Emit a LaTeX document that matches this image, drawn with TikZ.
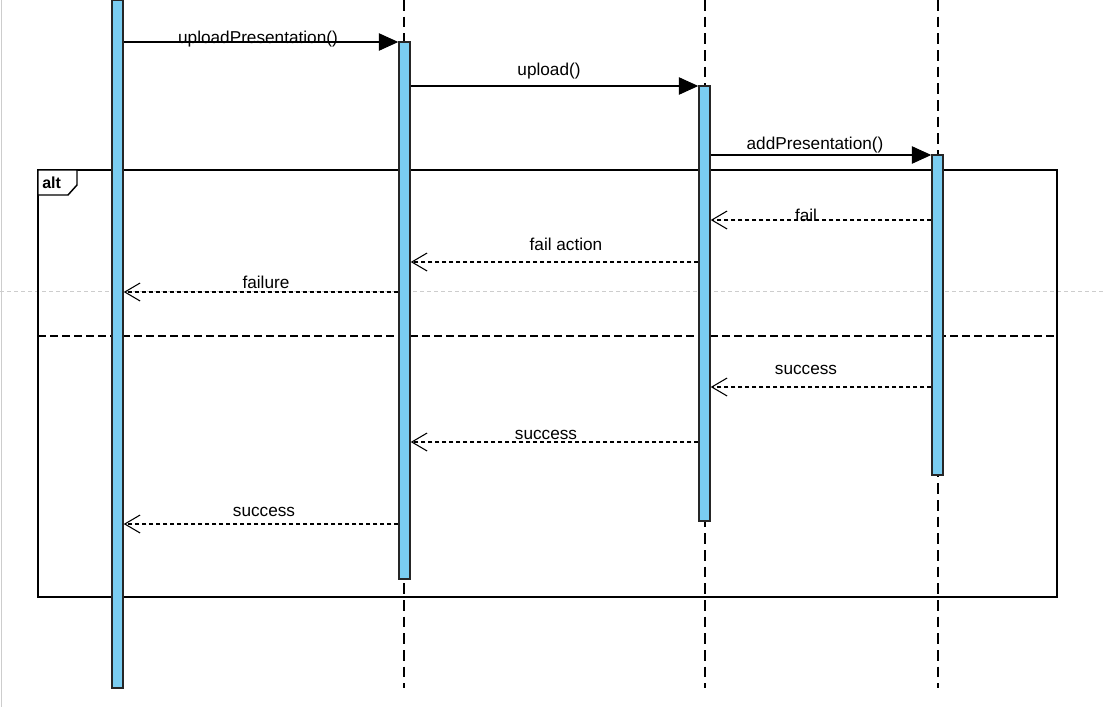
\documentclass[tikz,border=0pt]{standalone}
\usepackage{fontspec}
\setmainfont{Liberation Sans}
\usetikzlibrary{arrows.meta,fit}
\definecolor{barblue}{RGB}{122,205,241}
\definecolor{guide}{RGB}{205,205,205}
\begin{document}
\begin{tikzpicture}[x=0.75pt,y=-0.75pt,
  bar/.style={draw=black!85,line width=1.1pt,fill=barblue,inner sep=0pt,rectangle},
  lifeline/.style={line width=0.8pt,dash pattern=on 8pt off 4.5pt},
  syncmsg/.style={line width=0.8pt,-{Triangle[length=14.5pt,width=13pt]}},
  replymsg/.style={line width=0.85pt,dash pattern=on 3pt off 2.25pt,-{Straight Barb[length=11.5pt,width=13.5pt,line width=0.8pt]}},
  lbl/.style={font=\fontsize{12.9pt}{14pt}\selectfont,inner sep=0pt,yshift=-1.2pt},
  frame/.style={line width=1.1pt,draw=black}]
\useasboundingbox[fill=white] (0,0) rectangle (1103,707);

% page guides
\draw[guide,line width=0.75pt] (1,0) -- (1,707);
\draw[guide,line width=0.6pt,dash pattern=on 3pt off 2.25pt] (0,291) -- (1103,291);

% lifelines
\draw[lifeline] (404,0) -- (404,688);
\draw[lifeline] (705,0) -- (705,688);
\draw[lifeline] (938,0) -- (938,688);

% alt combined fragment
\draw[frame] (38,170) rectangle (1057,597);
\draw[line width=1.1pt,dash pattern=on 6pt off 3pt] (38,336) -- (1057,336);
\draw[frame,fill=white] (38,170) -- (77,170) -- (77,185) -- (68,195) -- (38,195) -- cycle;
\node[lbl,font=\fontsize{12pt}{13pt}\selectfont\bfseries,anchor=west] (altlbl) at (42,181) {alt};

% activation bars
\node[bar,fit={(112,0) (123,688)}] (b1) {};
\node[bar,fit={(399,42) (410,579)}] (b2) {};
\node[bar,fit={(699,86) (710,521)}] (b3) {};
\node[bar,fit={(932,155) (943,475)}] (b4) {};

% calls
\draw[syncmsg] (b1.east |- 0,42) -- (b2.west |- 0,42);
\node[lbl] (m1) at (258,37) {uploadPresentation()};
\draw[syncmsg] (b2.east |- 0,86) -- (b3.west |- 0,86);
\node[lbl] (m2) at (549,69) {upload()};
\draw[syncmsg] (b3.east |- 0,155) -- (b4.west |- 0,155);
\node[lbl] (m3) at (815,143) {addPresentation()};

% failure branch
\draw[replymsg] (b4.west |- 0,220) -- (b3.east |- 0,220);
\node[lbl] (r1) at (806,214) {fail};
\draw[replymsg] (b3.west |- 0,262) -- (b2.east |- 0,262);
\node[lbl] (r2) at (566,243) {fail action};
\draw[replymsg] (b2.west |- 0,292) -- (b1.east |- 0,292);
\node[lbl] (r3) at (266,281) {failure};

% success branch
\draw[replymsg] (b4.west |- 0,387) -- (b3.east |- 0,387);
\node[lbl] (s1) at (806,368) {success};
\draw[replymsg] (b3.west |- 0,442) -- (b2.east |- 0,442);
\node[lbl] (s2) at (546,433) {success};
\draw[replymsg] (b2.west |- 0,524) -- (b1.east |- 0,524);
\node[lbl] (s3) at (264,510) {success};
\end{tikzpicture}
\end{document}
